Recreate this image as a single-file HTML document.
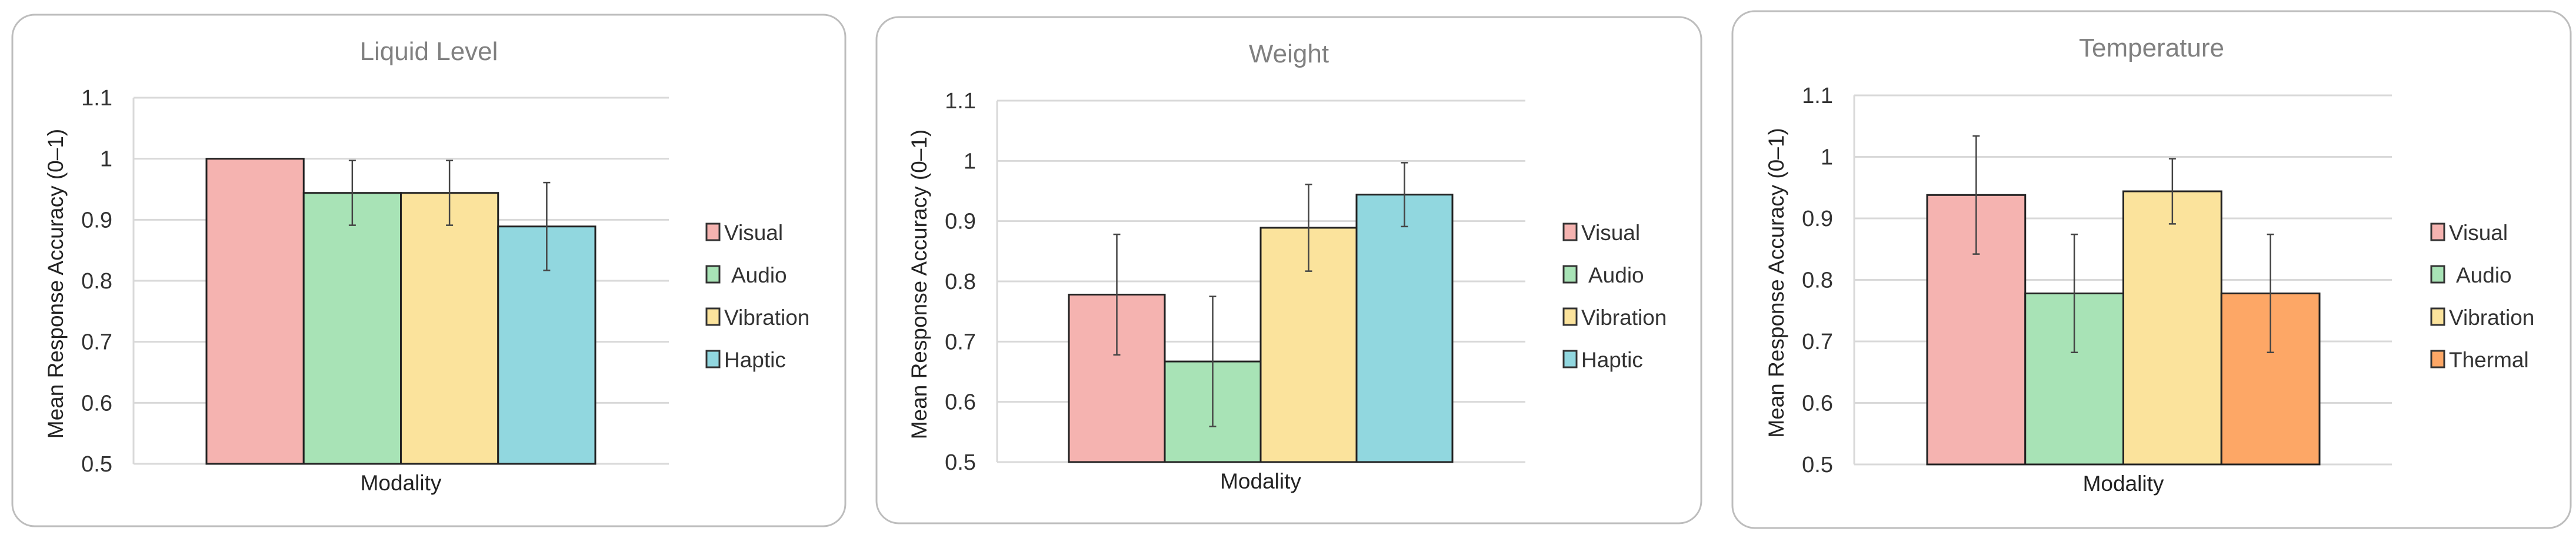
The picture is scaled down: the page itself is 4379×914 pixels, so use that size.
<!DOCTYPE html>
<html><head><meta charset="utf-8"><style>
html,body{margin:0;padding:0;background:#fff;width:4379px;height:914px;overflow:hidden}
svg{display:block;font-family:"Liberation Sans",Arial,sans-serif}
</style></head><body>
<svg id="chart" width="4379" height="914" viewBox="0 0 4379 914" xmlns="http://www.w3.org/2000/svg"></svg>
<script>
const panelTitles = ["Liquid Level", "Weight", "Temperature"];
const seriesNames1 = ["Visual", "Audio", "Vibration", "Haptic"];
const seriesNames2 = ["Visual", "Audio", "Vibration", "Haptic"];
const seriesNames3 = ["Visual", "Audio", "Vibration", "Thermal"];
const values1 = [1.0, 0.944, 0.944, 0.889];
const values2 = [0.778, 0.667, 0.889, 0.944];
const values3 = [0.938, 0.778, 0.944, 0.778];
const errors1 = [0, 0.053, 0.053, 0.072];
const errors2 = [0.10, 0.108, 0.072, 0.053];
const errors3 = [0.096, 0.096, 0.053, 0.096];
const tickLabels = ["0.5", "0.6", "0.7", "0.8", "0.9", "1", "1.1"];
const tickValues = [0.5, 0.6, 0.7, 0.8, 0.9, 1.0, 1.1];

const colorMap = {Visual:"#f5b3b0", Audio:"#a8e3b6", Vibration:"#fbe39c", Haptic:"#91d7df", Thermal:"#fda766"};
const layouts = [
  {bx:21, by:25, bw:1416, bh:869, pl:227, pr:1137, pt:166, pb:788, b0:351, b1:1012, lx:1201},
  {bx:1490, by:29, bw:1402, bh:860, pl:1695, pr:2593, pt:171, pb:785, b0:1817, b1:2469, lx:2658},
  {bx:2945, by:19, bw:1425, bh:878, pl:3152, pr:4066, pt:162, pb:789, b0:3276, b1:3943, lx:4133}
];
const allNames = [seriesNames1, seriesNames2, seriesNames3];
const allVals = [values1, values2, values3];
const allErrs = [errors1, errors2, errors3];
const NS = "http://www.w3.org/2000/svg";
const svg = document.getElementById("chart");
function mk(tag, attrs, parent, text){
  const e = document.createElementNS(NS, tag);
  for (const k in attrs) e.setAttribute(k, attrs[k]);
  if (text !== undefined) e.textContent = text;
  (parent || svg).appendChild(e);
  return e;
}
layouts.forEach((L, p) => {
  const g = mk("g", {});
  
  
  const box = mk("rect", {x:L.bx, y:L.by, width:L.bw, height:L.bh, rx:38, fill:"#fff", stroke:"#bdbdbd", "stroke-width":3}, g);
  
  
  const t = mk("text", {x:(L.bx + L.bw/2), y:L.by+77, "text-anchor":"middle", "font-size":44, fill:"#808080"}, g, panelTitles[p]);
  
  
  const y = v => L.pb - (v - 0.5) / 0.6 * (L.pb - L.pt);
  tickValues.forEach((v, i) => {
    const gl = mk("line", {x1:L.pl, x2:L.pr, y1:y(v), y2:y(v), stroke:"#d9d9d9", "stroke-width":3}, g);
    
    
    const tl = mk("text", {x:L.pl-36, y:y(v)+13, "text-anchor":"end", "font-size":38, fill:"#333"}, g, tickLabels[i]);
    
    
  });
  const ax = mk("line", {x1:L.pl, x2:L.pl, y1:L.pt, y2:L.pb, stroke:"#d9d9d9", "stroke-width":3}, g);
  
  
  const yt = mk("text", {transform:`translate(${L.pl-120},${(L.pt+L.pb)/2+5}) rotate(-90)`, "text-anchor":"middle", "font-size":37, fill:"#222"}, g, "Mean Response Accuracy (0\u20131)");
  
  
  const xt = mk("text", {x:(L.b0+L.b1)/2, y:L.pb+45, "text-anchor":"middle", "font-size":37, fill:"#222"}, g, "Modality");
  
  
  const names = allNames[p], vals = allVals[p], errs = allErrs[p];
  const bw = (L.b1 - L.b0) / vals.length;
  vals.forEach((v, i) => {
    const x0 = L.b0 + i*bw;
    const r = mk("rect", {x:x0, y:y(v), width:bw, height:L.pb - y(v), fill:colorMap[names[i]], stroke:"#222", "stroke-width":3}, g);
    
    
    if (errs[i] > 0) {
      const cx = x0 + bw/2, hi = y(v + errs[i]), lo = y(v - errs[i]);
      const eb = mk("path", {d:`M${cx},${hi}V${lo}M${cx-6},${hi}H${cx+6}M${cx-6},${lo}H${cx+6}`, stroke:"#444", "stroke-width":2.5, fill:"none"}, g);
      
      
    }
    const ly = 400 + i*72;
    const sw = mk("rect", {x:L.lx, y:ly-20, width:22, height:28, fill:colorMap[names[i]], stroke:"#333", "stroke-width":3}, g);
    
    
    const lt = mk("text", {x:(names[i]==="Audio" ? L.lx+42 : L.lx+30), y:ly+8, "font-size":37, fill:"#333"}, g, names[i]);
    
    
  });
});
</script>
</body></html>
